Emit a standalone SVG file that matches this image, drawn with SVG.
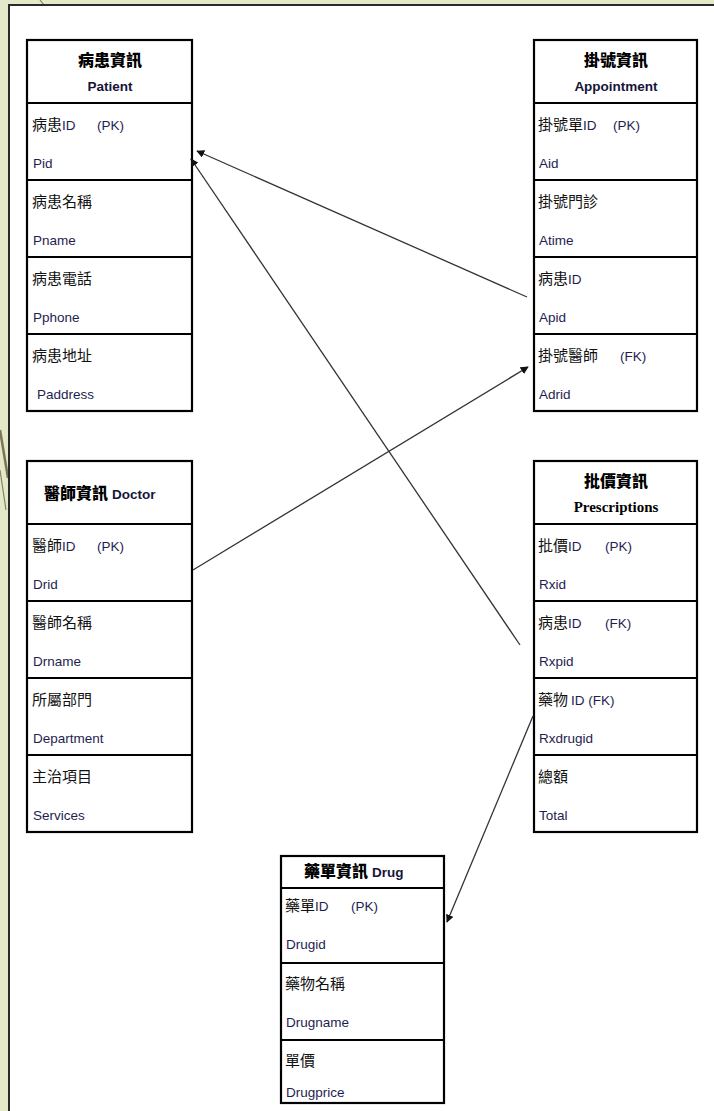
<svg xmlns="http://www.w3.org/2000/svg" width="714" height="1111" viewBox="0 0 714 1111">
<defs>
<style>
.bg{fill:#e3e9c9}
.panel{fill:#ffffff;stroke:#2a2a2a;stroke-width:2}
.box{fill:#ffffff;stroke:#000000;stroke-width:2.2}
.sep{stroke:#000000;stroke-width:2.2}
.cjk{font-family:"Noto Sans CJK TC","Noto Sans CJK SC",sans-serif;font-size:15px;fill:#111111}
.hd{font-family:"Noto Sans CJK TC","Noto Sans CJK SC",sans-serif;font-size:16px;font-weight:900;fill:#000000}
.lat{font-family:"Liberation Sans","Noto Sans",sans-serif;font-size:13.5px;fill:#1e1e50}
.lath{font-family:"Liberation Sans","Noto Sans",sans-serif;font-size:13.5px;font-weight:bold;fill:#15153a}
.ser{font-family:"Liberation Serif",serif;font-size:15px;font-weight:bold;fill:#000000}
.conn{stroke:#333333;stroke-width:1.3;fill:none;marker-end:url(#ah)}
.deco{stroke:#8a8266;stroke-width:1.2;fill:none}
</style>
<marker id="ah" viewBox="0 0 10 10" refX="9" refY="5" markerWidth="8" markerHeight="8" markerUnits="userSpaceOnUse" orient="auto">
<path d="M0,0 L10,5 L0,10 z" fill="#111111"/>
</marker>
</defs>
<rect class="bg" x="0" y="0" width="714" height="1111"/>
<line class="deco" x1="40" y1="0" x2="44" y2="5"/>
<path d="M0,430 L8,478" stroke="#7d7458" stroke-width="2.5" fill="none"/>
<path d="M0,470 L6,510" class="deco"/>
<rect class="panel" x="9" y="5" width="710" height="1112"/>

<g id="patient">
<rect class="box" x="27" y="40" width="165" height="371"/>
<line class="sep" x1="27" y1="103" x2="192" y2="103"/>
<line class="sep" x1="27" y1="180" x2="192" y2="180"/>
<line class="sep" x1="27" y1="257" x2="192" y2="257"/>
<line class="sep" x1="27" y1="334" x2="192" y2="334"/>
<text class="hd" x="110" y="66" text-anchor="middle">病患資訊</text>
<text class="lath" x="110" y="91" text-anchor="middle">Patient</text>
<text class="cjk" x="32" y="130">病患<tspan class="lat">ID</tspan><tspan class="lat" x="97">(PK)</tspan></text>
<text class="lat" x="33" y="168">Pid</text>
<text class="cjk" x="32" y="207">病患名稱</text>
<text class="lat" x="33" y="245">Pname</text>
<text class="cjk" x="32" y="284">病患電話</text>
<text class="lat" x="33" y="322">Pphone</text>
<text class="cjk" x="32" y="361">病患地址</text>
<text class="lat" x="37" y="399">Paddress</text>
</g>

<g id="appointment">
<rect class="box" x="534" y="40" width="163" height="371"/>
<line class="sep" x1="534" y1="103" x2="697" y2="103"/>
<line class="sep" x1="534" y1="180" x2="697" y2="180"/>
<line class="sep" x1="534" y1="257" x2="697" y2="257"/>
<line class="sep" x1="534" y1="334" x2="697" y2="334"/>
<text class="hd" x="616" y="66" text-anchor="middle">掛號資訊</text>
<text class="lath" x="616" y="91" text-anchor="middle">Appointment</text>
<text class="cjk" x="538" y="130">掛號單<tspan class="lat">ID</tspan><tspan class="lat" x="613">(PK)</tspan></text>
<text class="lat" x="539" y="168">Aid</text>
<text class="cjk" x="538" y="207">掛號門診</text>
<text class="lat" x="539" y="245">Atime</text>
<text class="cjk" x="538" y="284">病患<tspan class="lat">ID</tspan></text>
<text class="lat" x="539" y="322">Apid</text>
<text class="cjk" x="538" y="361">掛號醫師<tspan class="lat" x="620">(FK)</tspan></text>
<text class="lat" x="539" y="399">Adrid</text>
</g>

<g id="doctor">
<rect class="box" x="27" y="461" width="165" height="371"/>
<line class="sep" x1="27" y1="524" x2="192" y2="524"/>
<line class="sep" x1="27" y1="601" x2="192" y2="601"/>
<line class="sep" x1="27" y1="678" x2="192" y2="678"/>
<line class="sep" x1="27" y1="755" x2="192" y2="755"/>
<text class="hd" x="44" y="499">醫師資訊<tspan class="lath" dx="4">Doctor</tspan></text>
<text class="cjk" x="32" y="551">醫師<tspan class="lat">ID</tspan><tspan class="lat" x="97">(PK)</tspan></text>
<text class="lat" x="33" y="589">Drid</text>
<text class="cjk" x="32" y="628">醫師名稱</text>
<text class="lat" x="33" y="666">Drname</text>
<text class="cjk" x="32" y="705">所屬部門</text>
<text class="lat" x="33" y="743">Department</text>
<text class="cjk" x="32" y="782">主治項目</text>
<text class="lat" x="33" y="820">Services</text>
</g>

<g id="prescriptions">
<rect class="box" x="534" y="461" width="163" height="371"/>
<line class="sep" x1="534" y1="524" x2="697" y2="524"/>
<line class="sep" x1="534" y1="601" x2="697" y2="601"/>
<line class="sep" x1="534" y1="678" x2="697" y2="678"/>
<line class="sep" x1="534" y1="755" x2="697" y2="755"/>
<text class="hd" x="616" y="487" text-anchor="middle">批價資訊</text>
<text class="ser" x="616" y="512" text-anchor="middle">Prescriptions</text>
<text class="cjk" x="538" y="551">批價<tspan class="lat">ID</tspan><tspan class="lat" x="605">(PK)</tspan></text>
<text class="lat" x="539" y="589">Rxid</text>
<text class="cjk" x="538" y="628">病患<tspan class="lat">ID</tspan><tspan class="lat" x="605">(FK)</tspan></text>
<text class="lat" x="539" y="666">Rxpid</text>
<text class="cjk" x="538" y="705">藥物<tspan class="lat" dx="3">ID (FK)</tspan></text>
<text class="lat" x="539" y="743">Rxdrugid</text>
<text class="cjk" x="538" y="782">總額</text>
<text class="lat" x="539" y="820">Total</text>
</g>

<g id="drug">
<rect class="box" x="281" y="856" width="163" height="247"/>
<line class="sep" x1="281" y1="888" x2="444" y2="888"/>
<line class="sep" x1="281" y1="963" x2="444" y2="963"/>
<line class="sep" x1="281" y1="1040" x2="444" y2="1040"/>
<text class="hd" x="304" y="877">藥單資訊<tspan class="lath" dx="4">Drug</tspan></text>
<text class="cjk" x="285" y="911">藥單<tspan class="lat">ID</tspan><tspan class="lat" x="351">(PK)</tspan></text>
<text class="lat" x="286" y="949">Drugid</text>
<text class="cjk" x="285" y="989">藥物名稱</text>
<text class="lat" x="286" y="1027">Drugname</text>
<text class="cjk" x="285" y="1066">單價</text>
<text class="lat" x="286" y="1097">Drugprice</text>
</g>

<g id="connectors">
<line class="conn" x1="527" y1="297" x2="197" y2="151"/>
<line class="conn" x1="520" y1="645" x2="191" y2="159"/>
<line class="conn" x1="193" y1="570" x2="528" y2="367"/>
<line class="conn" x1="533" y1="716" x2="447" y2="922"/>
</g>
</svg>
